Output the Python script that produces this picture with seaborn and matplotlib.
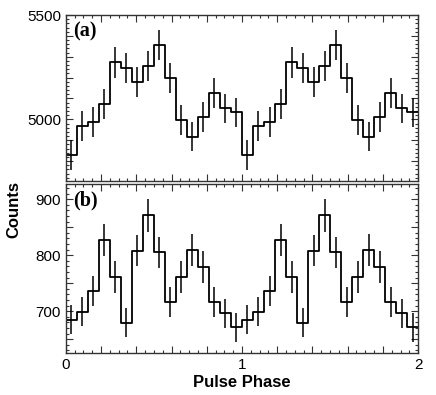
import numpy as np
import pandas as pd
import matplotlib
matplotlib.use("Agg")
import matplotlib.pyplot as plt
from matplotlib.ticker import MultipleLocator, FuncFormatter
import seaborn as sns

# pulse profile, 16 bins per cycle (shown twice)
counts_a = [4830, 4968, 4987, 5073, 5273, 5246, 5181, 5254,
            5357, 5200, 4997, 4916, 5010, 5124, 5052, 5033]
err_a = [71, 70, 71, 71, 73, 72, 72, 72,
         73, 72, 71, 70, 71, 72, 71, 71]
counts_b = [685, 699, 736, 827, 761, 679, 808, 871,
            805, 716, 761, 809, 779, 716, 696, 671]
err_b = [26, 26, 27, 29, 28, 26, 28, 30,
         28, 27, 28, 28, 28, 27, 26, 26]
panel_labels = ["(a)", "(b)"]
ylims = [(4705, 5500), (625, 927)]

nbin = len(counts_a)
edges = np.linspace(0, 2, 2 * nbin + 1)
centers = 0.5 * (edges[:-1] + edges[1:])

sns.set_style("ticks")
plt.rcParams["font.family"] = ["Liberation Sans", "DejaVu Sans"]
plt.rcParams["text.color"] = "black"
plt.rcParams["axes.labelcolor"] = "black"
plt.rcParams["xtick.labelcolor"] = "black"
plt.rcParams["ytick.labelcolor"] = "black"

fig = plt.figure(figsize=(4.36, 3.95), dpi=100)
ax_a = fig.add_axes([0.151, 0.542, 0.808, 0.420])
ax_b = fig.add_axes([0.151, 0.106, 0.808, 0.428])

panels = [(ax_a, counts_a, err_a, 500, 100, 20),
          (ax_b, counts_b, err_b, 100, 50, 10)]

for i, (ax, cts, err, lab_step, maj, mnr) in enumerate(panels):
    df = pd.DataFrame({"phase": centers, "counts": np.tile(cts, 2),
                       "err": np.tile(err, 2)})
    sns.histplot(data=df, x="phase", weights="counts", binwidth=1 / nbin,
                 binrange=(0, 2), element="step", fill=False,
                 color="black", linewidth=1.3, ax=ax)
    ax.errorbar(df["phase"], df["counts"], yerr=df["err"], fmt="none",
                ecolor="black", elinewidth=1.1)
    ax.set_xlim(0, 2)
    ax.set_ylim(*ylims[i])
    ax.set_xlabel("")
    ax.set_ylabel("")
    ax.xaxis.set_major_locator(MultipleLocator(0.2))
    ax.xaxis.set_minor_locator(MultipleLocator(0.05))
    ax.yaxis.set_major_locator(MultipleLocator(maj))
    ax.yaxis.set_minor_locator(MultipleLocator(mnr))
    ax.yaxis.set_major_formatter(FuncFormatter(
        lambda v, p, s=lab_step: f"{v:.0f}" if abs(v / s - round(v / s)) < 1e-6 else ""))
    ax.tick_params(which="both", direction="in", top=True, right=True,
                   color="#333333", width=0.8, labelsize=11)
    ax.tick_params(which="major", length=5)
    ax.tick_params(which="minor", length=2.5)
    for sp in ax.spines.values():
        sp.set_linewidth(1.0)
        sp.set_color("#333333")
    ax.text(0.022, 0.96, panel_labels[i], transform=ax.transAxes,
            ha="left", va="top", fontsize=14.5, fontweight="bold",
            family=["Liberation Serif", "DejaVu Serif"])

ax_a.tick_params(labelbottom=False)
ax_b.xaxis.set_major_formatter(FuncFormatter(
    lambda v, p: f"{v:.0f}" if abs(v - round(v)) < 1e-6 else ""))
ax_b.set_xlabel("Pulse Phase", fontsize=12, fontweight="bold", labelpad=2)
fig.text(0.032, 0.47, "Counts", rotation=90, ha="center", va="center",
         fontsize=12, fontweight="bold")

fig.savefig("out.png", dpi=100)
